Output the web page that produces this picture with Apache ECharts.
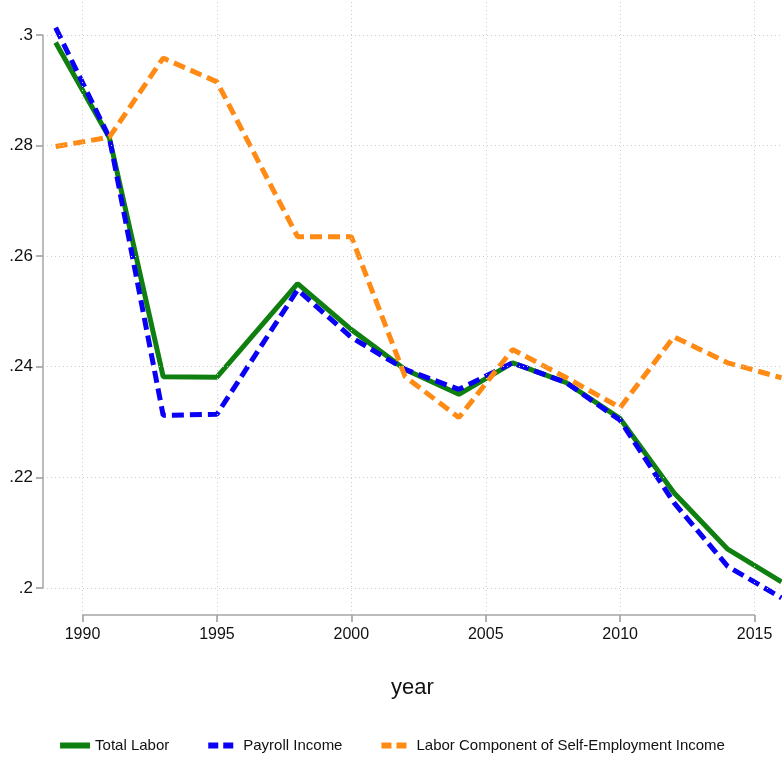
<!DOCTYPE html>
<html>
<head>
<meta charset="utf-8">
<script src="https://cdn.jsdelivr.net/npm/echarts@6/dist/echarts.min.js"></script>
<style>
  html, body { margin: 0; padding: 0; background: #fff; }
  #chart { width: 782px; height: 762px; }
</style>
</head>
<body>
<div id="chart"></div>
<script>
const years = [1989, 1991, 1993, 1995, 1998, 2000, 2002, 2004, 2006, 2008, 2010, 2012, 2014, 2016];
const totalLabor = [0.2986, 0.2814, 0.2382, 0.2381, 0.2550, 0.2467, 0.2395, 0.2350, 0.2407, 0.2371, 0.2306, 0.2172, 0.2070, 0.2011];
const payrollIncome = [0.3013, 0.2814, 0.2312, 0.2314, 0.2539, 0.2453, 0.2395, 0.2359, 0.2407, 0.2371, 0.2303, 0.2154, 0.2039, 0.1982];
const selfEmployment = [0.2798, 0.2815, 0.2958, 0.2915, 0.2635, 0.2635, 0.2382, 0.2308, 0.2431, 0.2380, 0.2326, 0.2454, 0.2407, 0.2380];

const xTicks = [1990, 1995, 2000, 2005, 2010, 2015];
const yTicks = [0.2, 0.22, 0.24, 0.26, 0.28, 0.3];

const X_MIN = 1988.53, X_MAX = 2016.02;
const Y_MIN = 0.1951, Y_MAX = 0.3063;

const FONT = '"Liberation Sans Narrow", "Liberation Sans", Arial, sans-serif';
const GREEN = '#0f800f', BLUE = '#0a00f5', ORANGE = '#ff8a14';
const pairs = (vals) => years.map((y, i) => [y, vals[i]]);

const chart = echarts.init(document.getElementById('chart'));

// dotted grid + short axis lines, placed through the axes' scales
const gridLines = [
  ...yTicks.map((v) => [{ coord: [X_MIN, v] }, { coord: [X_MAX, v] }]),
  ...xTicks.map((v) => [{ coord: [v, Y_MIN] }, { coord: [v, Y_MAX] }]),
];
const axisLines = [
  [{ coord: [1990, Y_MIN] }, { coord: [2015, Y_MIN] }],
  [{ coord: [X_MIN, 0.2] }, { coord: [X_MIN, 0.3] }],
];

const option = {
  animation: false,
  backgroundColor: '#fff',
  grid: { left: 43, right: 0, top: 0, bottom: 147 },
  xAxis: {
    type: 'value',
    min: X_MIN,
    max: X_MAX,
    name: 'year',
    nameLocation: 'middle',
    nameGap: 62,
    nameTextStyle: { fontFamily: FONT, fontSize: 22, color: '#111' },
    axisLine: { show: false },
    splitLine: { show: false },
    axisTick: { show: true, length: 7, customValues: xTicks, lineStyle: { color: '#999', width: 1.5 } },
    axisLabel: {
      customValues: xTicks,
      margin: 12,
      fontFamily: FONT,
      fontSize: 16,
      color: '#111',
      formatter: (v) => String(Math.round(v)),
    },
  },
  yAxis: {
    type: 'value',
    min: Y_MIN,
    max: Y_MAX,
    axisLine: { show: false },
    splitLine: { show: false },
    axisTick: { show: true, length: 7, customValues: yTicks, lineStyle: { color: '#999', width: 1.5 } },
    axisLabel: {
      customValues: yTicks,
      margin: 10,
      fontFamily: FONT,
      fontSize: 17,
      color: '#111',
      formatter: (v) => String(+v.toFixed(2)).replace(/^0/, ''),
    },
  },
  legend: {
    data: [
      { name: 'Total Labor', lineStyle: { width: 6, type: 'solid' } },
      { name: 'Payroll Income', lineStyle: { width: 6, type: [10, 5] } },
      { name: 'Labor Component of Self-Employment Income', lineStyle: { width: 6, type: [10, 5] } },
    ],
    bottom: 4,
    left: 'center',
    itemWidth: 30,
    itemHeight: 14,
    itemGap: 36,
    itemStyle: { opacity: 0 },
    textStyle: { fontFamily: FONT, fontSize: 15, color: '#111' },
  },
  series: [
    {
      name: 'axes',
      type: 'line',
      data: [],
      silent: true,
      z: 1,
      markLine: {
        silent: true,
        symbol: 'none',
        label: { show: false },
        animation: false,
        data: [
          ...gridLines.map((d) => [
            { ...d[0], lineStyle: { color: '#cfcfcf', width: 1, type: [1, 3] } },
            d[1],
          ]),
          ...axisLines.map((d) => [
            { ...d[0], lineStyle: { color: '#a6a6a6', width: 1.5, type: 'solid' } },
            d[1],
          ]),
        ],
      },
    },
    {
      name: 'Total Labor',
      type: 'line',
      data: pairs(totalLabor),
      symbol: 'none',
      z: 2,
      color: GREEN,
      lineStyle: { color: GREEN, width: 5, type: 'solid' },
    },
    {
      name: 'Payroll Income',
      type: 'line',
      data: pairs(payrollIncome),
      symbol: 'none',
      z: 3,
      color: BLUE,
      lineStyle: { color: BLUE, width: 5, type: [12, 6] },
    },
    {
      name: 'Labor Component of Self-Employment Income',
      type: 'line',
      data: pairs(selfEmployment),
      symbol: 'none',
      z: 4,
      color: ORANGE,
      lineStyle: { color: ORANGE, width: 5, type: [12, 6] },
    },
  ],
};

chart.setOption(option);
</script>
</body>
</html>
